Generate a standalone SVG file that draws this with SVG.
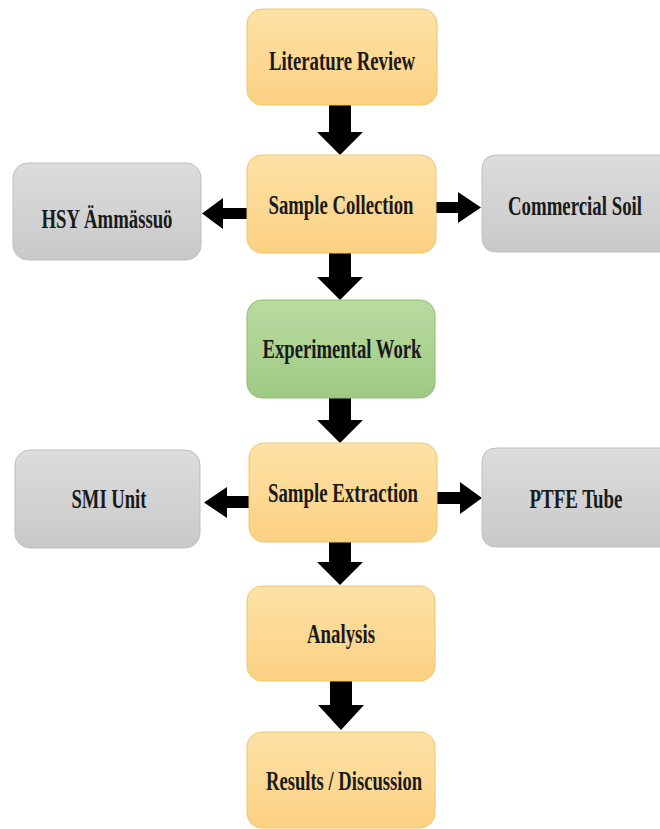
<svg xmlns="http://www.w3.org/2000/svg" width="660" height="829" viewBox="0 0 660 829">
<defs>
<linearGradient id="gy" x1="0" y1="0" x2="0" y2="1"><stop offset="0" stop-color="#fde2a6"/><stop offset="1" stop-color="#fbd183"/></linearGradient>
<linearGradient id="gg" x1="0" y1="0" x2="0" y2="1"><stop offset="0" stop-color="#dcdcdc"/><stop offset="1" stop-color="#c9c9c9"/></linearGradient>
<linearGradient id="gn" x1="0" y1="0" x2="0" y2="1"><stop offset="0" stop-color="#b9dba1"/><stop offset="1" stop-color="#9fca83"/></linearGradient>
</defs>
<style>
.y{fill:url(#gy);stroke:#f3c46c;stroke-width:1}
.g{fill:url(#gg);stroke:#bdbdbd;stroke-width:1}
.n{fill:url(#gn);stroke:#8dbb70;stroke-width:1}
text{font-family:"Liberation Serif","Times New Roman",serif;font-weight:bold;font-size:27px;fill:#1a1a1a;text-anchor:middle}
.a{fill:#000}
</style>
<rect width="660" height="829" fill="#ffffff"/>
<g id="connectors">
<polygon class="a" points="329,105 351,105 351,132 363,132 340,155 317,132 329,132"/>
<polygon class="a" points="329,253 351,253 351,277 363,277 340,300 317,277 329,277"/>
<polygon class="a" points="329,398 351,398 351,420 363,420 340,443 317,420 329,420"/>
<polygon class="a" points="329,542 351,542 351,562 363,562 340,585 317,562 329,562"/>
<polygon class="a" points="330,681 352,681 352,705 364,705 341,730 318,705 330,705"/>
<polygon class="a" points="247,208 223,208 223,198 202,213.5 223,229 223,219 247,219"/>
<polygon class="a" points="435,202 458,202 458,192 481,207.5 458,223 458,213 435,213"/>
<polygon class="a" points="249,496 227,496 227,487 204,502.5 227,518 227,508 249,508"/>
<polygon class="a" points="437,492 460,492 460,482 482,498 460,514 460,504 437,504"/>
</g>
<g id="literature-review"><rect class="y" x="247" y="9" width="190" height="96" rx="15"/><text transform="translate(342 70) scale(0.7 1)" textLength="208.6" lengthAdjust="spacingAndGlyphs">Literature Review</text></g>
<g id="sample-collection"><rect class="y" x="247" y="155" width="189" height="98" rx="15"/><text transform="translate(341 214) scale(0.7 1)" textLength="207.1" lengthAdjust="spacingAndGlyphs">Sample Collection</text></g>
<g id="hsy"><rect class="g" x="13" y="163" width="188" height="97" rx="15"/><text transform="translate(107 228) scale(0.7 1)" textLength="187.1" lengthAdjust="spacingAndGlyphs">HSY Ämmässuö</text></g>
<g id="commercial-soil"><path class="g" d="M660,155 H497 Q482,155 482,170 V237 Q482,252 497,252 H660"/><text transform="translate(575 215) scale(0.7 1)" textLength="191.4" lengthAdjust="spacingAndGlyphs">Commercial Soil</text></g>
<g id="experimental-work"><rect class="n" x="247" y="300" width="188" height="98" rx="15"/><text transform="translate(342 358) scale(0.7 1)" textLength="227.1" lengthAdjust="spacingAndGlyphs">Experimental Work</text></g>
<g id="sample-extraction"><rect class="y" x="249" y="443" width="188" height="99" rx="15"/><text transform="translate(343 502) scale(0.7 1)" textLength="214.3" lengthAdjust="spacingAndGlyphs">Sample Extraction</text></g>
<g id="smi-unit"><rect class="g" x="15" y="450" width="185" height="98" rx="15"/><text transform="translate(109 508) scale(0.7 1)" textLength="107.1" lengthAdjust="spacingAndGlyphs">SMI Unit</text></g>
<g id="ptfe-tube"><path class="g" d="M660,448 H497 Q482,448 482,463 V532 Q482,547 497,547 H660"/><text transform="translate(576 508) scale(0.7 1)" textLength="132.9" lengthAdjust="spacingAndGlyphs">PTFE Tube</text></g>
<g id="analysis"><rect class="y" x="247" y="586" width="188" height="95" rx="15"/><text transform="translate(341 643) scale(0.7 1)" textLength="97.1" lengthAdjust="spacingAndGlyphs">Analysis</text></g>
<g id="results"><rect class="y" x="247" y="732" width="188" height="96" rx="15"/><text transform="translate(344 790) scale(0.7 1)" textLength="222.9" lengthAdjust="spacingAndGlyphs">Results / Discussion</text></g>
</svg>
